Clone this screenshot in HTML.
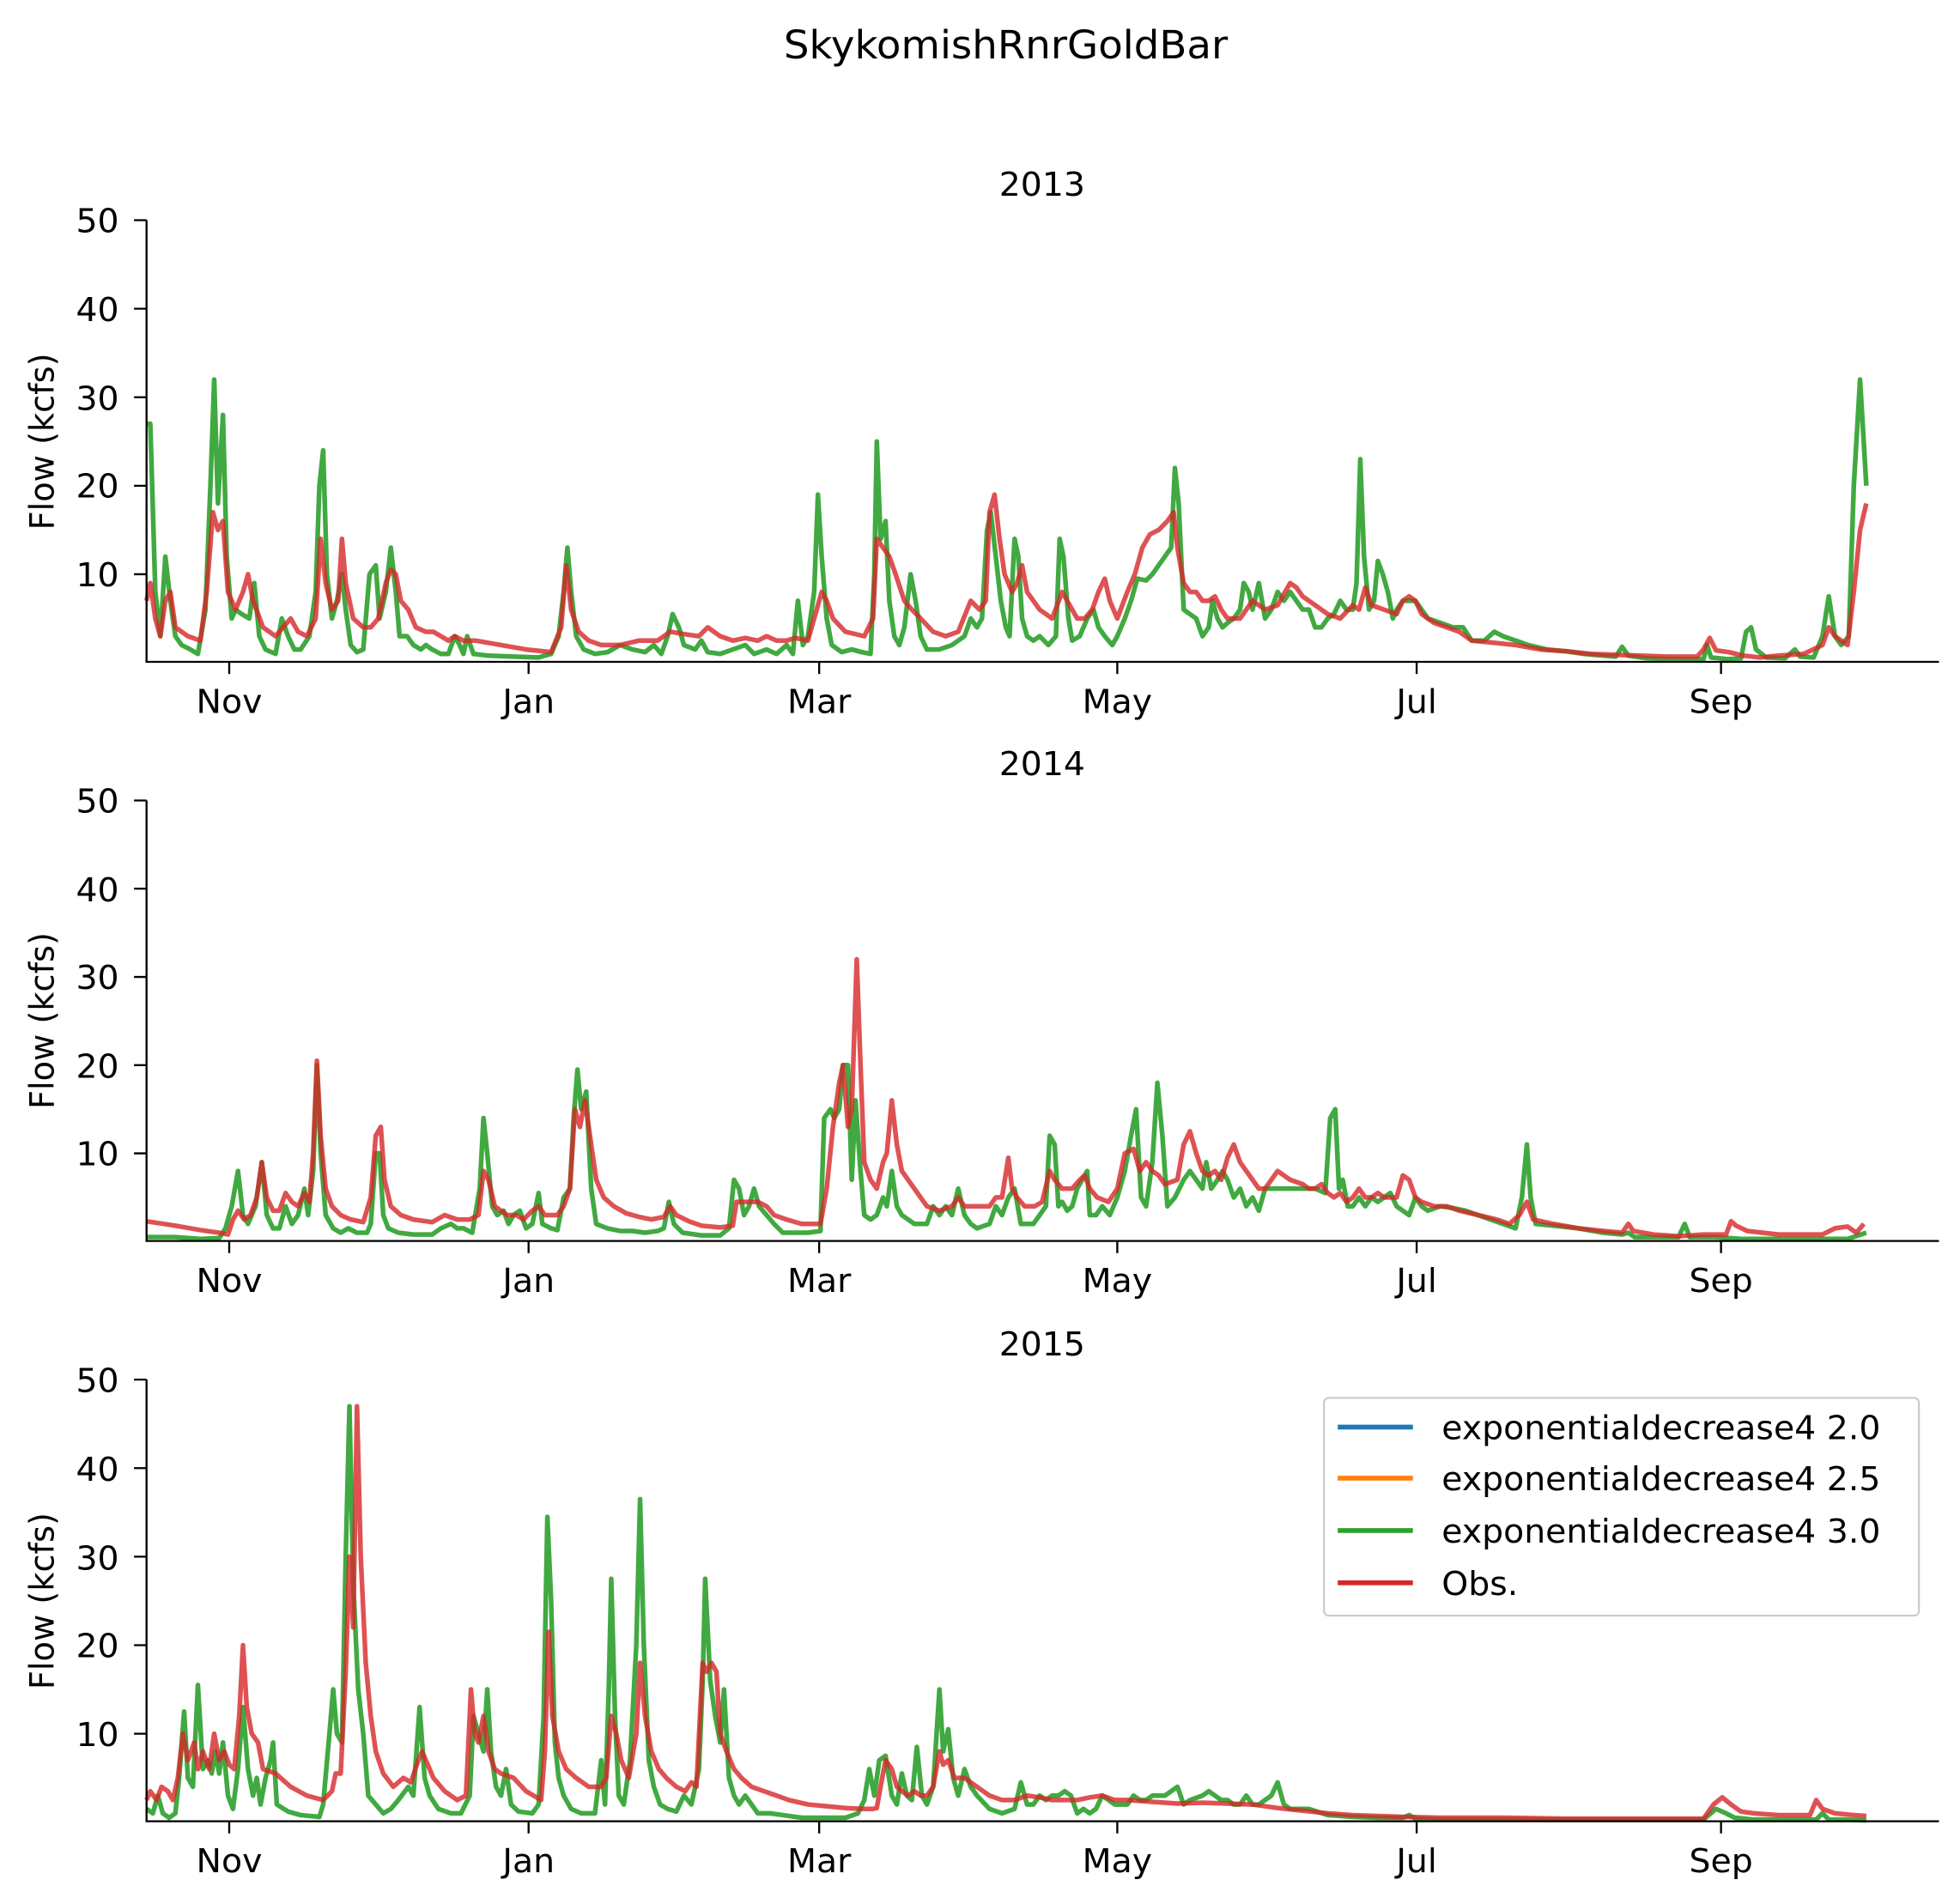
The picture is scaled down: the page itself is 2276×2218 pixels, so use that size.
<!DOCTYPE html>
<html><head><meta charset="utf-8"><style>
html,body{margin:0;padding:0;background:#fff;}
svg{display:block;}
text{font-family:"DejaVu Sans","Liberation Sans",sans-serif;fill:#000;}
.g{fill:none;stroke:#2ca02c;stroke-opacity:0.9;stroke-width:5.5;stroke-linejoin:round;vector-effect:non-scaling-stroke;}
.r{fill:none;stroke:#d62728;stroke-opacity:0.8;stroke-width:5.5;stroke-linejoin:round;vector-effect:non-scaling-stroke;}
.ax{stroke:#000;stroke-width:1.6;fill:none;}
.tl{font-size:27px;}
</style></head><body>
<svg width="2276" height="2218" viewBox="0 0 1560 1565" preserveAspectRatio="none" xmlns="http://www.w3.org/2000/svg">
<rect width="1560" height="1565" fill="#fff"/>
<text x="803" y="48" font-size="32" text-anchor="middle">SkykomishRnrGoldBar</text>

<!-- Panel 1 -->
<text x="832" y="161" class="tl" text-anchor="middle">2013</text>
<g transform="translate(0,544.75) scale(1,-7.275)">
<polyline class="g" points="117,27 120,27 124,8 128,3 132,12 136,7 140,3 145,2 152,1.5 158,1 164,6 168,20 171,32 174,18 178,28 181,12 185,5 188,6 193,5.5 199,5 203,9 207,3 212,1.5 220,1 225,5 230,3 235,1.5 240,1.5 247,3 252,8 255,20 258,24 261,10 265,5 269,7 273,10 276,6 280,2 285,1.2 290,1.5 295,10 300,11 303,5 308,8 312,13 316,8 319,3 325,3 330,2 336,1.5 340,2 345,1.5 352,1 358,1 363,3 367,2 370,1 373,3 378,1 390,0.8 410,0.7 430,0.6 440,1 446,3 450,8 453,13 456,8 460,3 466,1.5 475,1 485,1.2 495,2 505,1.5 515,1.2 522,2 528,1 533,3 537,5.5 542,4 546,2 555,1.5 560,2.5 565,1.2 575,1 585,1.5 595,2 602,1 612,1.5 620,1 628,2 633,1 637,7 641,2 645,3 650,8 653,19 656,12 660,5 664,2 672,1.2 680,1.5 688,1.2 695,1 698,10 700,25 703,14 707,16 710,7 714,3 718,2 722,4 727,10 731,7 735,3 740,1.5 750,1.5 760,2 770,3 775,5 780,4 784,5 788,15 791,17 795,12 799,7 803,4 806,3 810,14 813,12 816,5 820,3 825,2.5 830,3 837,2 843,3 846,14 849,12 853,5 856,2.5 862,3 868,5 873,6 877,4 882,3 888,2 892,3 898,5 903,7 908,9.5 915,9.3 920,10 925,11 930,12 935,13 938,22 941,18 945,6 950,5.5 955,5 960,3 965,4 968,7 972,5 976,4 980,4.5 985,5 990,6 993,9 997,8 1000,6 1005,9 1010,5 1015,6 1020,8 1025,7 1030,8 1035,7 1040,6 1045,6 1050,4 1055,4 1060,5 1065,5.5 1070,7 1075,6 1080,6 1083,9 1086,23 1089,12 1093,6 1097,7 1100,11.5 1104,10 1108,8 1112,5 1115,6 1120,7 1125,7 1130,7 1135,6 1140,5 1150,4.5 1160,4 1168,4 1175,2.5 1185,2.5 1193,3.5 1200,3 1210,2.5 1220,2 1235,1.5 1250,1.3 1265,1 1280,0.8 1290,0.7 1295,1.8 1300,0.8 1315,0.5 1340,0.4 1360,0.4 1363,2 1366,0.6 1380,0.4 1390,0.5 1394,3.5 1398,4 1402,1.5 1410,0.6 1425,0.5 1433,1.5 1437,0.7 1448,0.6 1455,3 1460,7.5 1465,3 1470,2 1476,3 1480,20 1485,32 1490,20"/>
<polyline class="r" points="117,7 120,9 124,5 128,3 132,7 136,8 140,4 150,3 160,2.5 165,8 170,17 174,15 178,16 182,8 188,6 194,8 198,10 202,7 210,4 220,3 226,4 232,5 238,3.5 245,3 252,5 256,14 260,9 265,6 270,7 273,14 276,9 282,5 290,4 296,4 302,5 308,9 312,10.5 316,10 320,7 326,6 332,4 340,3.5 346,3.5 352,3 358,2.5 363,3 370,2.5 380,2.5 400,2 420,1.5 440,1.2 448,4 452,11 456,6 462,3.5 470,2.5 480,2 495,2 510,2.5 525,2.5 535,3.5 548,3.2 558,3 565,4 575,3 585,2.5 595,2.8 605,2.5 612,3 620,2.5 628,2.5 635,2.8 645,2.5 652,6 656,8 660,7 665,5 675,3.5 690,3 697,5 700,14 705,13 710,12 715,10 722,7 728,6 735,5 745,3.5 755,3 765,3.5 775,7 782,6 787,7 790,17 794,19 798,14 802,10 808,8 812,9 816,11 820,8 830,6 840,5 848,8 852,7 860,5 866,5 872,6 877,8 882,9.5 886,7 892,5 900,8 906,10 912,13 918,14.5 925,15 932,16 937,17 940,13 945,9 950,8 955,8 960,7 965,7 970,7.5 975,6 980,5 985,5 990,5 995,6 1000,7 1010,6 1020,6.5 1030,9 1035,8.5 1040,7.5 1050,6.5 1060,5.5 1070,5 1080,6.5 1085,6 1090,8.5 1095,6.5 1105,6 1115,5.5 1120,7 1125,7.5 1130,7 1135,5.5 1145,4.5 1155,4 1165,3.5 1175,2.5 1190,2.3 1210,2 1230,1.5 1250,1.3 1270,1 1290,0.9 1310,0.8 1330,0.7 1355,0.7 1360,1.5 1365,2.8 1370,1.4 1380,1.2 1392,0.8 1405,0.6 1420,0.8 1440,1 1455,2 1460,4 1465,3 1475,2 1480,8 1485,15 1490,18"/>
</g>
<path class="ax" d="M117,181 V544 H1548"/>
<path class="ax" d="M107,181H117M107,253.75H117M107,326.5H117M107,399.25H117M107,472H117"/>
<g class="tl" text-anchor="end"><text x="95" y="191">50</text><text x="95" y="264">40</text><text x="95" y="337">30</text><text x="95" y="409">20</text><text x="95" y="482">10</text></g>
<path class="ax" d="M183,544v10M422,544v10M654,544v10M892,544v10M1131,544v10M1374,544v10"/>
<g class="tl" text-anchor="middle"><text x="183" y="586">Nov</text><text x="422" y="586">Jan</text><text x="654" y="586">Mar</text><text x="892" y="586">May</text><text x="1131" y="586">Jul</text><text x="1374" y="586">Sep</text></g>
<text class="tl" transform="translate(43,363) rotate(-90)" text-anchor="middle">Flow (kcfs)</text>

<!-- Panel 2 -->
<text x="832" y="637" class="tl" text-anchor="middle">2014</text>
<g transform="translate(0,1020.5) scale(1,-7.25)">
<polyline class="g" points="117,0.5 140,0.5 160,0.3 175,0.4 180,1.5 185,4 190,8 194,3 198,2 204,4 209,9 213,3 218,1.5 223,1.5 228,4 233,2 238,3 243,6 246,3 250,8 253,20 256,10 260,3 266,1.5 272,1 278,1.5 285,1 293,1 296,2 300,10 303,10 306,3 310,1.5 318,1 330,0.8 345,0.8 352,1.5 360,2 365,1.5 370,1.5 377,1 383,6 386,14 389,10 393,4 397,3 402,3.5 406,2 410,3 415,3.5 420,1.5 425,2 430,5.5 433,2 440,1.5 445,1.3 450,5 455,6 458,14 461,19.5 464,15 468,17 472,6 476,2 485,1.5 495,1.2 505,1.2 515,1 525,1.2 530,1.5 534,4.5 538,2 545,1 560,0.7 575,0.7 582,1.5 586,7 590,6 594,3 598,4 602,6 606,4 612,3 618,2 625,1 635,1 645,1 655,1.2 658,14 663,15 666,14 670,15 673,20 677,20 680,7 683,16 687,8 690,3 695,2.5 700,3 705,5 708,4 712,8 716,4 720,3 730,2 740,2 745,4 750,3 755,4 760,3 765,6 770,3 775,2 780,1.5 790,2 795,4 800,3 805,5 810,6 815,2 825,2 830,3 835,4 838,12 842,11 845,4 848,4.5 852,3.5 856,4 860,6 864,7 868,8 870,3 875,3 880,4 886,3 892,5 898,8 903,12 907,15 911,5 915,4 920,9 924,18 928,12 932,4 938,5 945,7 950,8 955,7 960,6 963,9 967,6 972,7 976,8 980,7 985,5 990,6 995,4 1000,5 1005,3.5 1010,6 1020,6 1030,6 1040,6 1050,6 1058,5.5 1062,14 1066,15 1069,6 1072,7 1076,4 1080,4 1085,5 1090,4 1095,5 1100,4.5 1105,5 1110,5.5 1115,4 1120,3.5 1125,3 1130,5 1135,4 1140,3.5 1150,4 1160,3.8 1170,3.5 1180,3 1190,2.5 1200,2 1210,1.5 1215,5 1219,11 1222,5 1226,2 1240,1.8 1260,1.5 1280,1 1295,0.8 1300,1 1305,0.5 1320,0.5 1340,0.5 1345,2 1349,0.5 1370,0.5 1390,0.3 1420,0.3 1450,0.3 1475,0.3 1490,1"/>
<polyline class="r" points="117,2.3 140,1.8 160,1.3 175,1 182,0.8 186,2.5 190,3.5 195,2.5 200,3 205,5 209,9 213,5 218,3.5 223,3.5 228,5.5 233,4.5 238,4 243,5.5 247,4.5 250,10 253,20.5 256,12 260,6 265,4 272,3 280,2.5 290,2.2 296,5 300,12 304,13 307,7 312,4 320,3 330,2.5 345,2.2 355,3 365,2.5 375,2.5 382,3 386,8 390,7 395,4 400,3.5 405,3 412,3 418,2.5 425,3.5 430,4 435,3 445,3 450,4 455,6 459,15 463,13 467,16 472,11 476,7 482,5 490,4 500,3.2 510,2.8 520,2.5 530,2.8 535,4 540,3 550,2.3 560,1.8 575,1.6 585,1.8 588,4.5 595,4.5 605,4.5 612,4 618,3 628,2.5 640,2 655,2 660,6 665,13 670,18 673,20 677,13 680,15 684,32 687,20 690,9 695,7 700,6 705,9 708,10 712,16 716,11 720,8 730,6 740,4 750,3.5 760,4 765,5 770,4 780,4 790,4 795,5 800,5 805,9.5 808,6 812,5 818,4 826,4 832,4.5 838,8 842,7 848,6 856,6 862,7 866,7.5 870,6 876,5 885,4.5 892,6 898,10 905,10.5 910,8 915,9 920,8 925,7.5 930,6.5 940,7 945,11 950,12.5 955,10 960,8 965,7.5 970,8 975,7 980,9.5 985,11 990,9 995,8 1000,7 1005,6 1010,6 1015,7 1020,8 1030,7 1040,6.5 1045,6 1050,6 1055,6.5 1060,5.5 1065,5 1070,5.5 1075,4.5 1080,5 1085,6 1090,5 1095,5 1100,5.5 1105,5 1110,5 1115,5 1120,7.5 1125,7 1130,5 1135,4.5 1145,4 1155,4 1165,3.5 1180,3 1195,2.5 1205,2 1213,3 1219,4.5 1224,2.5 1240,2 1260,1.5 1280,1.2 1295,1 1300,2 1304,1.2 1320,0.8 1340,0.6 1360,0.8 1378,0.8 1382,2.3 1386,1.8 1395,1.2 1420,0.8 1440,0.8 1455,0.8 1465,1.5 1475,1.7 1482,1 1488,2"/>
</g>
<path class="ax" d="M117,658 V1020 H1548"/>
<path class="ax" d="M107,658H117M107,730.5H117M107,803H117M107,875.5H117M107,948H117"/>
<g class="tl" text-anchor="end"><text x="95" y="668">50</text><text x="95" y="741">40</text><text x="95" y="813">30</text><text x="95" y="886">20</text><text x="95" y="958">10</text></g>
<path class="ax" d="M183,1020v10M422,1020v10M654,1020v10M892,1020v10M1131,1020v10M1374,1020v10"/>
<g class="tl" text-anchor="middle"><text x="183" y="1062">Nov</text><text x="422" y="1062">Jan</text><text x="654" y="1062">Mar</text><text x="892" y="1062">May</text><text x="1131" y="1062">Jul</text><text x="1374" y="1062">Sep</text></g>
<text class="tl" transform="translate(43,839) rotate(-90)" text-anchor="middle">Flow (kcfs)</text>

<!-- Panel 3 -->
<text x="832" y="1114" class="tl" text-anchor="middle">2015</text>
<g transform="translate(0,1497.75) scale(1,-7.275)">
<polyline class="g" points="117,1.5 122,1 126,3 130,1 135,0.5 140,1 143,5 147,12.5 150,5 154,4 158,15.5 162,6 166,7 169,5.5 172,8 175,5.5 178,9 182,3 186,1.5 190,6 194,13 198,6 202,3 205,5 208,2 212,5 216,7 218,9 221,2 230,1.2 240,0.8 255,0.6 258,2 263,10 266,15 269,10 273,9 276,30 279,47 282,27 286,15 290,10 294,3 300,2 306,1 312,1.5 318,2.5 326,4 330,3 335,13 339,5 343,3 350,1.5 360,1 368,1 375,3 378,12 382,10 386,8 389,15 392,8 396,4 400,3 404,6 408,2 414,1.2 425,1 430,2 434,12 437,34.5 440,25 443,9 446,5 450,3 456,1.5 464,1 475,1 480,7 483,2 486,15 488,27.5 491,12 494,3 498,2 503,7 508,20 511,36.5 514,20 518,7 522,4 527,2 533,1.5 540,1.2 546,3 552,2 558,6 561,16 563,27.5 567,16 571,12 575,9 578,15 582,5 586,3 590,2 595,3 600,2 605,1 615,1 625,0.8 640,0.5 660,0.5 675,0.5 685,1 690,2.5 694,6 698,3 702,7 707,7.5 712,3 716,2 720,5.5 724,3 728,2.5 732,8.5 736,3 740,2 745,4 750,15 753,8 757,10.5 761,5 765,3 770,6 775,4 780,3 790,1.5 800,1 810,1.5 815,4.5 820,2 825,2 830,3 835,2.5 840,3 845,3 850,3.5 855,3 860,1 865,1.5 870,1 875,1.5 880,3 885,2.5 890,2 900,2 905,3 910,2.5 915,2.5 920,3 925,3 930,3 935,3.5 940,4 945,2 950,2.5 960,3 965,3.5 970,3 975,2.5 980,2.5 985,2 990,2 995,3 1000,2 1005,2 1010,2.5 1015,3 1020,4.5 1025,2 1030,1.5 1045,1.5 1060,0.8 1080,0.6 1100,0.5 1120,0.5 1125,0.8 1130,0.4 1150,0.3 1200,0.3 1250,0.3 1300,0.3 1360,0.3 1370,1.5 1378,1 1385,0.5 1400,0.3 1430,0.3 1450,0.3 1455,1 1460,0.3 1475,0.3 1490,0.2"/>
<polyline class="r" points="117,2.5 120,3.5 125,2.5 129,4 134,3.5 138,2.5 142,5 146,10 150,7 155,9 158,6 162,8 167,6 171,10 175,7 179,8 183,6.5 187,6 191,12 194,20 197,13 201,10 206,9 210,6 220,5.5 232,4 245,3 258,2.5 265,3.5 268,5.5 272,5.5 276,17 279,30 282,22 285,47 288,30 292,18 296,12 300,8 306,5.5 314,4 322,5 328,4.5 334,7 337,8 340,7 346,5 355,3.5 365,2.5 372,3 376,15 379,10 382,9 386,12 390,8 395,6 400,5.5 410,5 420,3.5 432,2.5 435,8 438,21.5 441,12 446,8 452,6 460,5 470,4 480,4 484,5 488,12 492,10 496,7 502,5 508,10 511,18 515,12 520,8 526,6 532,5 540,4 547,3.5 552,4.5 556,4 561,18 564,17 568,18 572,17 575,10 580,8 586,6 592,5 600,4 610,3.5 620,3 630,2.5 645,2 660,1.8 675,1.6 690,1.5 697,1.5 700,1.6 703,4 707,7 712,6 716,4 720,3.5 725,3 730,3.5 735,3 740,3 745,4 750,8 753,6.5 757,7 762,5 770,5 780,4 790,3 800,2.5 810,2.5 820,3 830,2.8 840,2.5 850,2.5 860,2.5 870,2.8 880,3 890,2.5 900,2.5 920,2.3 940,2.1 960,2.2 980,2.1 1000,2 1020,1.6 1040,1.3 1060,1 1080,0.8 1100,0.7 1120,0.6 1150,0.5 1200,0.5 1250,0.4 1300,0.4 1360,0.4 1368,2 1375,2.8 1382,2 1390,1.2 1400,1 1420,0.8 1445,0.8 1450,2.5 1455,1.5 1465,1 1480,0.8 1490,0.7"/>
</g>
<path class="ax" d="M117,1134 V1497 H1548"/>
<path class="ax" d="M107,1134H117M107,1206.75H117M107,1279.5H117M107,1352.25H117M107,1425H117"/>
<g class="tl" text-anchor="end"><text x="95" y="1144">50</text><text x="95" y="1217">40</text><text x="95" y="1290">30</text><text x="95" y="1362">20</text><text x="95" y="1435">10</text></g>
<path class="ax" d="M183,1497v10M422,1497v10M654,1497v10M892,1497v10M1131,1497v10M1374,1497v10"/>
<g class="tl" text-anchor="middle"><text x="183" y="1539">Nov</text><text x="422" y="1539">Jan</text><text x="654" y="1539">Mar</text><text x="892" y="1539">May</text><text x="1131" y="1539">Jul</text><text x="1374" y="1539">Sep</text></g>
<text class="tl" transform="translate(43,1316) rotate(-90)" text-anchor="middle">Flow (kcfs)</text>

<!-- Legend -->
<rect x="1057" y="1149" width="475" height="179" rx="4" fill="#fff" fill-opacity="0.8" stroke="#ccc" stroke-width="1.5"/>
<g stroke-width="4">
<line x1="1068" y1="1173" x2="1128" y2="1173" stroke="#1f77b4"/>
<line x1="1068" y1="1215" x2="1128" y2="1215" stroke="#ff7f0e"/>
<line x1="1068" y1="1258" x2="1128" y2="1258" stroke="#2ca02c"/>
<line x1="1068" y1="1301" x2="1128" y2="1301" stroke="#d62728"/>
</g>
<g class="tl">
<text x="1151" y="1183">exponentialdecrease4 2.0</text>
<text x="1151" y="1225">exponentialdecrease4 2.5</text>
<text x="1151" y="1268">exponentialdecrease4 3.0</text>
<text x="1151" y="1311">Obs.</text>
</g>
</svg>
</body></html>
